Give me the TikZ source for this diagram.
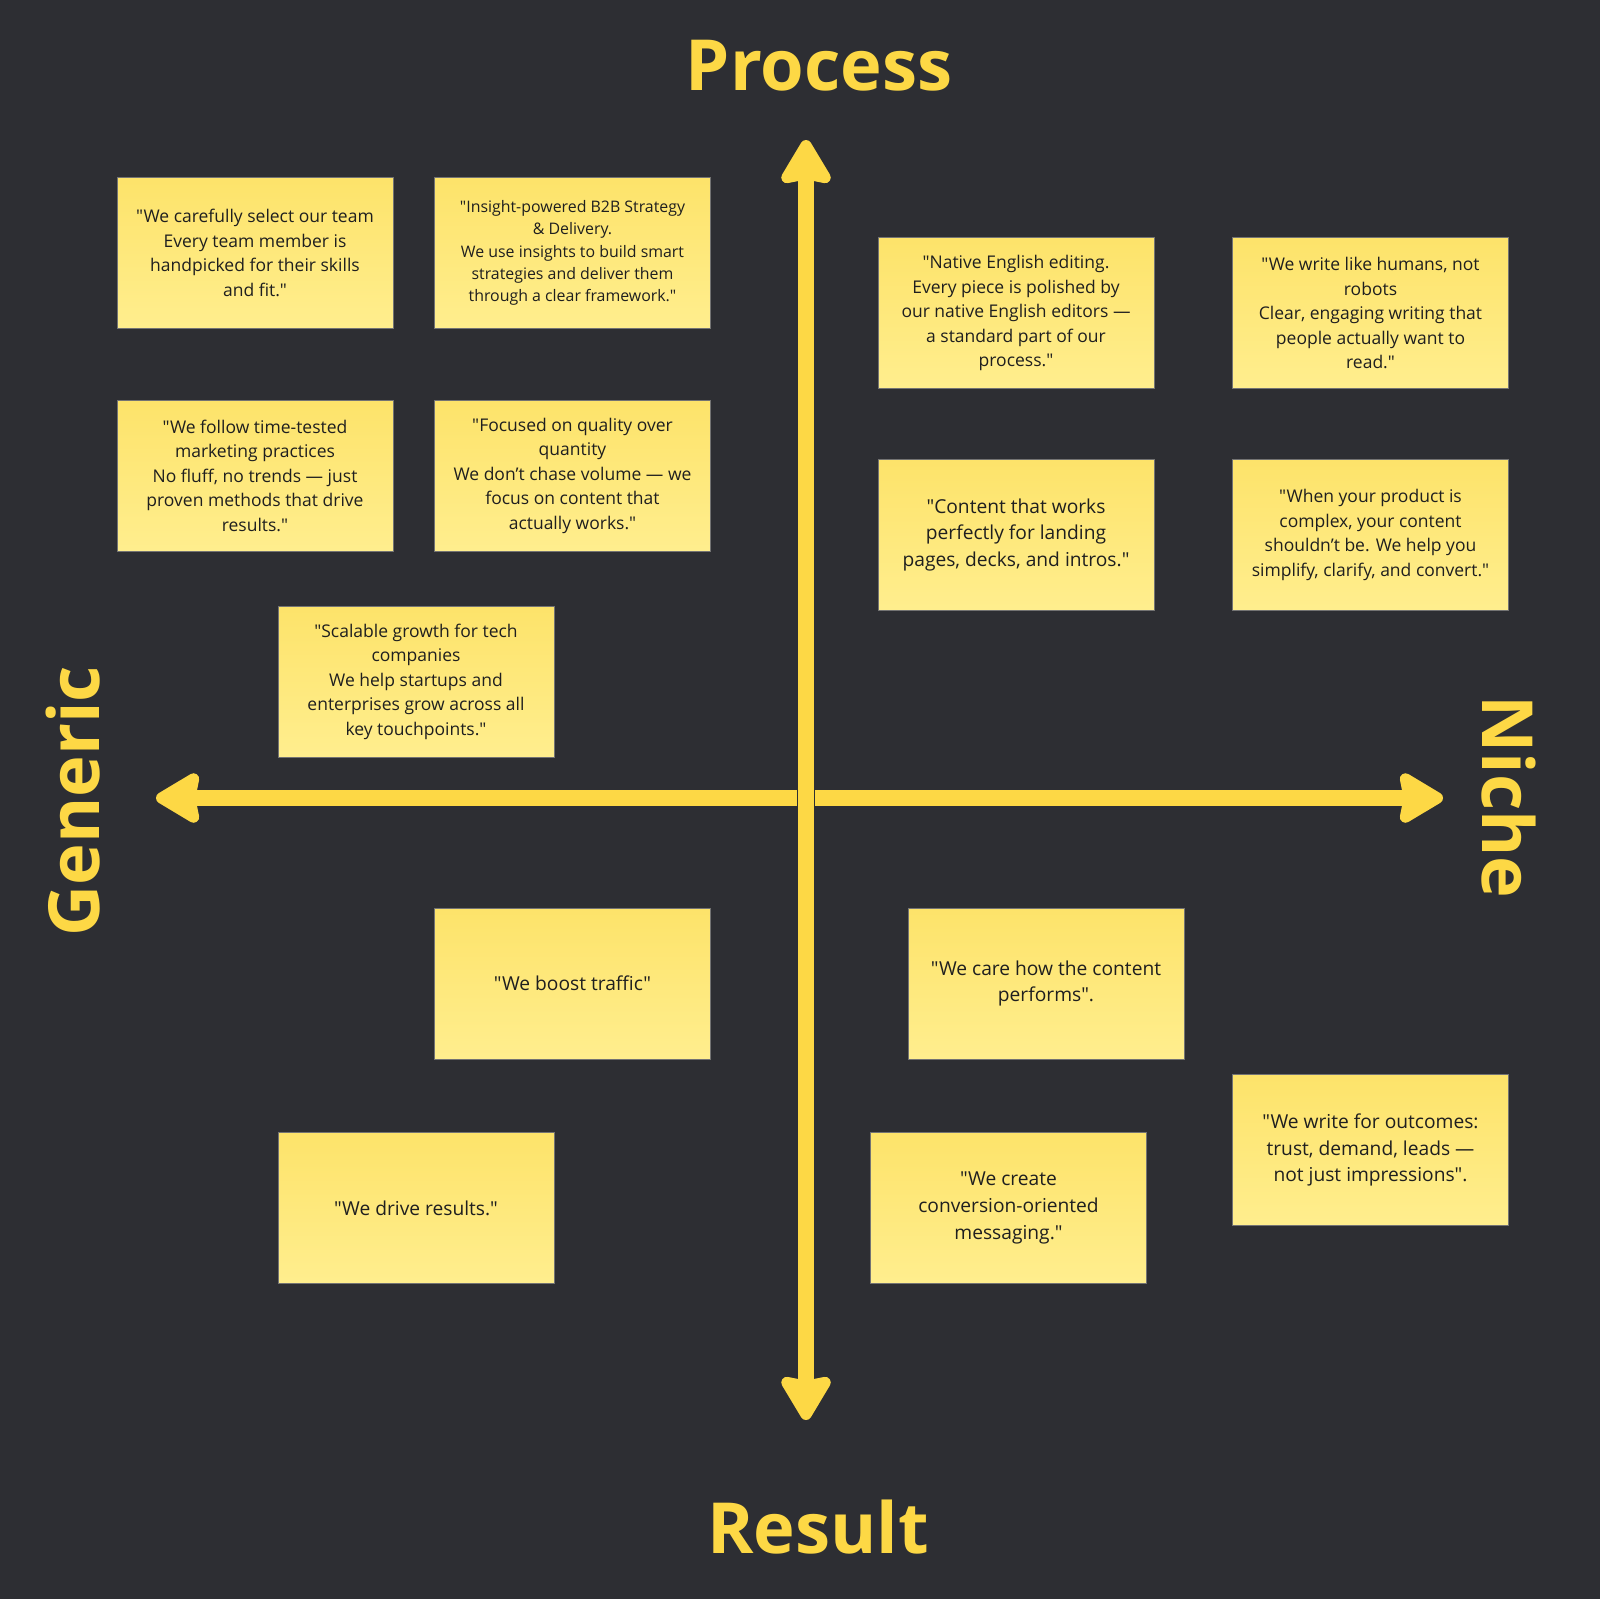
\documentclass[tikz,border=0pt]{standalone}
\usepackage{fontspec}
\setmainfont{Open Sans}[Ligatures=TeXOff]
\usetikzlibrary{arrows.meta}
\definecolor{bg}{HTML}{2D2E33}
\definecolor{axisyellow}{HTML}{FDD845}
\definecolor{notetop}{HTML}{FDE36A}
\definecolor{notebottom}{HTML}{FFEE8E}
\definecolor{ink}{HTML}{1F1F1F}
\begin{document}
\begin{tikzpicture}[x=1pt, y=-1pt,
    note/.style={minimum width=276pt, minimum height=151pt, inner sep=0pt, align=center,
      top color=notetop, bottom color=notebottom, draw=black!55, line width=0.6pt,
      text=ink, font=\fontsize{17.5}{24.5}\selectfont},
    small/.style={font=\fontsize{15.9}{22.4}\selectfont},
    large/.style={font=\fontsize{19.2}{26.8}\selectfont},
    title/.style={text=axisyellow, inner sep=0pt, anchor=base, font=\fontsize{70.5}{72}\selectfont\bfseries},
    axis/.style={draw=axisyellow, line width=16pt,
      {Stealth[length=50pt, width=58pt, inset=5pt, round]}-{Stealth[length=50pt, width=58pt, inset=5pt, round]}}]

    \path [fill=bg, use as bounding box] (0, 0) rectangle (1600, 1599);

    \coordinate (t) at (806, 140);
    \coordinate (u) at (806, 1420);
    \coordinate (l) at (156, 798);
    \coordinate (r) at (1443, 798);

    \node [title] (p) at (819, 90) {Process};
    \node [title] (q) at (818, 1553) {Result};
    \node [title, rotate=90] (g) at (99, 801) {Generic};
    \node [title, rotate=-90] (n) at (1482, 797) {Niche};

    \draw [axis] (l) to (r);
    \draw [bg, line width=17.5pt] (806, 785) to (806, 811);
    \draw [axis] (u) to (t);

    \node [note] (a) at (255, 253) {"We carefully select our team\\Every team member is\\handpicked for their skills\\and fit."};
    \node [note, small] (b) at (572.5, 253) {"Insight-powered B2B Strategy\\\& Delivery.\\We use insights to build smart\\strategies and deliver them\\through a clear framework."};
    \node [note] (c) at (255, 475.5) {"We follow time-tested\\marketing practices\\No fluff, no trends — just\\proven methods that drive\\results."};
    \node [note] (d) at (572.5, 475.5) {"Focused on quality over\\quantity\\We don’t chase volume — we\\focus on content that\\actually works."};
    \node [note] (e) at (416, 681.5) {"Scalable growth for tech\\companies\\We help startups and\\enterprises grow across all\\key touchpoints."};
    \node [note] (f) at (1016, 313) {"Native English editing.\\Every piece is polished by\\our native English editors —\\a standard part of our\\process."};
    \node [note] (h) at (1370.5, 313) {"We write like humans, not\\robots\\Clear, engaging writing that\\people actually want to\\read."};
    \node [note, large] (i) at (1016, 535) {"Content that works\\perfectly for landing\\pages, decks, and intros."};
    \node [note] (j) at (1370.5, 535) {"When your product is\\complex, your content\\shouldn’t be. We help you\\simplify, clarify, and convert."};
    \node [note, large] (k) at (572.5, 983.5) {"We boost traffic"};
    \node [note, large] (m) at (1046, 983.5) {"We care how the content\\performs".};
    \node [note, large] (o) at (1370.5, 1150) {"We write for outcomes:\\trust, demand, leads —\\not just impressions".};
    \node [note, large] (s) at (416, 1208) {"We drive results."};
    \node [note, large] (v) at (1008.5, 1208) {"We create\\conversion-oriented\\messaging."};

\end{tikzpicture}
\end{document}
